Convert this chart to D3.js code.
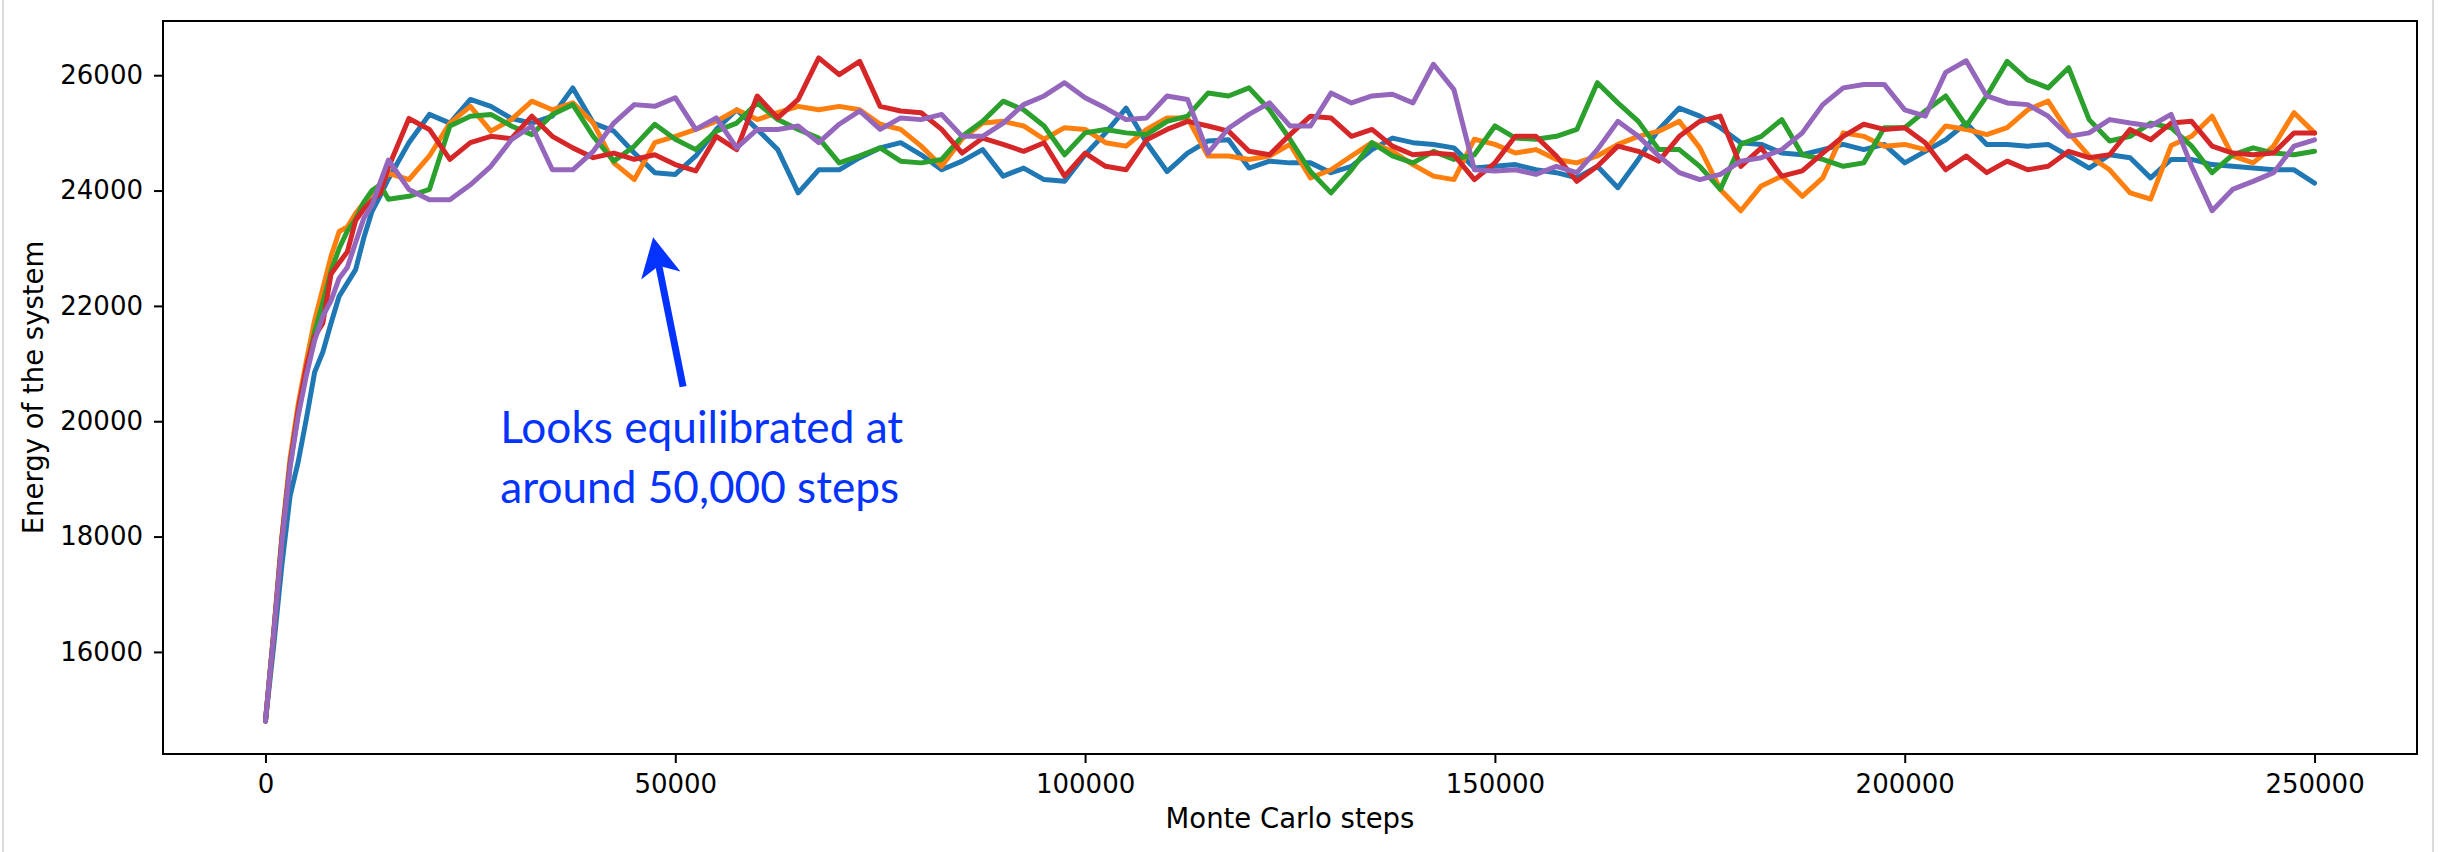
<!DOCTYPE html>
<html>
<head>
<meta charset="utf-8">
<script src="https://cdn.jsdelivr.net/npm/d3@7"></script>
<style>
  body { margin: 0; background: #fff; }
  svg { display: block; }
</style>
</head>
<body>
<div id="chart"></div>
<script>
// Monte Carlo steps (x) shared by all five runs
var steps = [0,1000,2000,3000,4000,5000,6000,7000,8000,9000,10000,11000,12000,13000,14000,15000,
  17500,20000,22500,25000,27500,30000,32500,35000,37500,40000,
  42500,45000,47500,50000,52500,55000,57500,60000,62500,65000,
  67500,70000,72500,75000,77500,80000,82500,85000,87500,90000,
  92500,95000,97500,100000,102500,105000,107500,110000,112500,115000,
  117500,120000,122500,125000,127500,130000,132500,135000,137500,140000,
  142500,145000,147500,150000,152500,155000,157500,160000,162500,165000,
  167500,170000,172500,175000,177500,180000,182500,185000,187500,190000,
  192500,195000,197500,200000,202500,205000,207500,210000,212500,215000,
  217500,220000,222500,225000,227500,230000,232500,235000,237500,240000,
  242500,245000,247500,250000];

// energy of each run
var run1 = [14800,16100,17500,18700,19300,20050,20850,21200,21700,22170,22400,22630,23180,23640,23910,24200,
  24830,25320,25170,25580,25460,25250,25170,25290,25780,25170,
  25030,24650,24310,24280,24600,25060,25400,25060,24710,23960,
  24360,24360,24570,24740,24830,24620,24360,24510,24710,24250,
  24390,24190,24160,24620,25000,25430,24830,24330,24650,24860,
  24880,24390,24510,24480,24480,24310,24420,24710,24910,24830,
  24800,24740,24390,24420,24450,24360,24310,24220,24420,24050,
  24540,25060,25430,25290,25090,24830,24800,24650,24620,24710,
  24800,24710,24800,24480,24680,24880,25170,24800,24800,24770,
  24800,24600,24390,24620,24570,24220,24540,24540,24450,24420,
  24390,24360,24360,24130];

var run2 = [14800,16350,18000,19350,20300,21050,21750,22300,22860,23290,23370,23600,23790,23950,24100,24300,
  24190,24600,25170,25460,25030,25230,25550,25400,25520,25170,
  24480,24190,24830,24940,25060,25200,25400,25230,25350,25460,
  25400,25460,25400,25150,25060,24770,24420,24900,25170,25200,
  25120,24890,25090,25060,24830,24770,25060,25260,25260,24600,
  24600,24540,24600,24800,24220,24360,24600,24830,24680,24450,
  24250,24190,24890,24800,24650,24710,24540,24480,24600,24800,
  24940,25030,25200,24740,24020,23650,24080,24250,23900,24220,
  25000,24940,24770,24800,24710,25120,25060,24970,25090,25400,
  25550,25000,24600,24360,23960,23850,24780,24940,25290,24600,
  24480,24770,25350,25000];

var run3 = [14800,16300,17950,19250,20150,20900,21550,22050,22600,23000,23300,23500,23800,24000,24100,23850,
  23900,24020,25120,25290,25320,25120,24970,25320,25490,24940,
  24510,24770,25150,24890,24710,25030,25170,25520,25230,25060,
  24910,24480,24600,24740,24510,24480,24540,24940,25200,25550,
  25400,25120,24620,25000,25060,25000,24970,25200,25290,25690,
  25640,25780,25400,24890,24330,23960,24360,24830,24600,24480,
  24680,24540,24620,25120,24910,24890,24940,25060,25870,25520,
  25200,24710,24710,24420,24020,24800,24940,25230,24620,24540,
  24420,24480,25090,25090,25380,25640,25120,25640,26240,25920,
  25780,26130,25230,24860,24940,25170,25090,24770,24310,24620,
  24740,24650,24620,24680];

var run4 = [14800,16300,17950,19250,20200,20950,21470,21700,22550,22750,22940,23480,23680,23830,23950,24400,
  25250,25060,24540,24830,24940,24900,25290,24940,24740,24570,
  24650,24540,24620,24450,24340,24940,24710,25640,25260,25580,
  26300,26010,26240,25460,25380,25350,25060,24650,24910,24800,
  24680,24830,24250,24650,24420,24360,24880,25060,25200,25120,
  25030,24680,24620,24970,25290,25260,24940,25060,24770,24620,
  24650,24620,24190,24480,24940,24940,24600,24160,24420,24770,
  24680,24510,24940,25200,25290,24420,24740,24250,24340,24650,
  24940,25150,25060,25090,24830,24360,24600,24310,24510,24360,
  24420,24680,24570,24620,25060,24880,25170,25200,24770,24650,
  24620,24650,25000,25000];

var run5 = [14800,16300,17900,19200,20100,20800,21400,21820,22090,22480,22670,23100,23520,23750,24140,24530,
  24020,23840,23840,24100,24420,24880,25120,24360,24360,24680,
  25170,25490,25460,25610,25060,25260,24740,25060,25060,25120,
  24830,25150,25380,25060,25260,25230,25320,24940,24940,25170,
  25490,25640,25870,25610,25430,25230,25260,25640,25580,24650,
  25080,25320,25520,25120,25120,25690,25520,25640,25670,25520,
  26190,25750,24360,24340,24360,24280,24420,24310,24710,25200,
  24940,24600,24310,24190,24280,24510,24570,24710,25000,25490,
  25780,25840,25840,25400,25290,26050,26250,25640,25520,25490,
  25290,24940,25000,25230,25170,25120,25320,24420,23650,24020,
  24160,24310,24770,24880];

var xTicks = [0, 50000, 100000, 150000, 200000, 250000];
var yTicks = [16000, 18000, 20000, 22000, 24000, 26000];
var colors = ["#1f77b4", "#ff7f0e", "#2ca02c", "#d62728", "#9467bd"];
var runs = [run1, run2, run3, run4, run5];
var noteLines = ["Looks equilibrated at", "around 50,000 steps"];

var W = 2438, H = 852;
var margin = {top: 21, right: 21, bottom: 98, left: 163},
    width = W - margin.left - margin.right,
    height = H - margin.top - margin.bottom;

var svg = d3.select("#chart").append("svg")
    .attr("width", W)
    .attr("height", H);

// light frame of the screenshot
svg.append("line").attr("x1", 3).attr("x2", 3).attr("y1", 0).attr("y2", H)
  .attr("stroke", "#cfcfcf").attr("stroke-width", 1.5);
svg.append("line").attr("x1", 2433).attr("x2", 2433).attr("y1", 0).attr("y2", H)
  .attr("stroke", "#cfcfcf").attr("stroke-width", 1.5);

var g = svg.append("g")
    .attr("transform", "translate(" + margin.left + "," + margin.top + ")");

var x = d3.scaleLinear().domain([-12500, 262500]).range([0, width]);
var y = d3.scaleLinear().domain([14230, 26940]).range([height, 0]);

g.append("defs").append("clipPath").attr("id", "clip")
  .append("rect").attr("width", width).attr("height", height);

var line = d3.line()
  .x(function(d, i) { return x(steps[i]); })
  .y(function(d) { return y(d); });

var lines = g.append("g").attr("clip-path", "url(#clip)");
runs.forEach(function(r, k) {
  lines.append("path")
    .datum(r)
    .attr("fill", "none")
    .attr("stroke", colors[k])
    .attr("stroke-width", 5)
    .attr("stroke-linejoin", "round")
    .attr("stroke-linecap", "round")
    .attr("d", line);
});

// axes
var xAxis = g.append("g")
  .attr("transform", "translate(0," + height + ")")
  .call(d3.axisBottom(x).tickValues(xTicks).tickSize(9).tickPadding(12).tickFormat(d3.format("d")));
var yAxis = g.append("g")
  .call(d3.axisLeft(y).tickValues(yTicks).tickSize(9).tickPadding(11).tickFormat(d3.format("d")));

[xAxis, yAxis].forEach(function(a) {
  a.select(".domain").remove();
  a.selectAll(".tick line").attr("stroke", "#000").attr("stroke-width", 2);
  a.selectAll(".tick text")
    .attr("fill", "#000")
    .style("font-family", "DejaVu Sans")
    .style("font-size", "26px");
});

g.append("rect")
  .attr("width", width).attr("height", height)
  .attr("fill", "none").attr("stroke", "#000").attr("stroke-width", 2);

svg.append("text")
  .attr("x", margin.left + width / 2)
  .attr("y", 828)
  .attr("text-anchor", "middle")
  .style("font-family", "DejaVu Sans")
  .style("font-size", "27.5px")
  .text("Monte Carlo steps");

svg.append("text")
  .attr("transform", "translate(43," + (margin.top + height / 2) + ") rotate(-90)")
  .attr("text-anchor", "middle")
  .style("font-family", "DejaVu Sans")
  .style("font-size", "27.5px")
  .text("Energy of the system");

// annotation, placed in data units
var note = {tip: [47300, 23190], tail: [50950, 20600], text: [28650, 19630], lineGap: 60};
var blueInk = "#0433ff";

var tx = x(note.tip[0]), ty = y(note.tip[1]);
var sx = x(note.tail[0]), sy = y(note.tail[1]);
var ang = Math.atan2(ty - sy, tx - sx);
var ux = Math.cos(ang), uy = Math.sin(ang), nx = -uy, ny = ux;
var headLen = 39, headHalf = 20, notch = 10;
var bx = tx - ux * headLen, by = ty - uy * headLen;

g.append("line")
  .attr("x1", sx).attr("y1", sy)
  .attr("x2", tx - ux * (headLen - notch)).attr("y2", ty - uy * (headLen - notch))
  .attr("stroke", blueInk).attr("stroke-width", 7);
g.append("path")
  .attr("d", "M" + tx + "," + ty +
    "L" + (bx + nx * headHalf) + "," + (by + ny * headHalf) +
    "L" + (tx - ux * (headLen - notch)) + "," + (ty - uy * (headLen - notch)) +
    "L" + (bx - nx * headHalf) + "," + (by - ny * headHalf) + "Z")
  .attr("fill", blueInk);

var noteText = g.append("text")
  .attr("x", x(note.text[0]))
  .attr("y", y(note.text[1]))
  .attr("fill", blueInk)
  .style("font-family", "Lato")
  .style("font-size", "43px");
noteText.selectAll("tspan").data(noteLines).enter().append("tspan")
  .attr("x", x(note.text[0]))
  .attr("dy", function(d, i) { return i ? note.lineGap : 0; })
  .text(function(d) { return d; });

// fit the first line to the width seen in the picture
var w0 = noteText.select("tspan").node().getComputedTextLength();
noteText.style("font-size", (43 * 403 / w0) + "px");
</script>
</body>
</html>
